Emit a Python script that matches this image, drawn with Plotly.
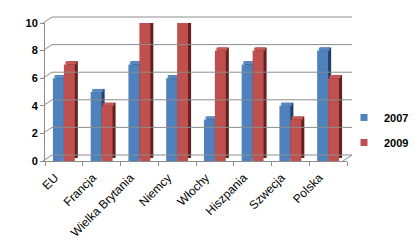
import plotly.graph_objects as go

categories = ["EU", "Francja", "Wielka Brytania", "Niemcy", "Włochy", "Hiszpania", "Szwecja", "Polska"]
series_names = ["2007", "2009"]
values_2007 = [6, 5, 7, 6, 3, 7, 4, 8]
values_2009 = [7, 4, 10, 10, 8, 8, 3, 6]
y_ticks = [0, 2, 4, 6, 8, 10]

front_colors = ["#4f81bd", "#c0504d"]
top_colors = ["#5a8ac4", "#c85a56"]
side_colors = ["#243f66", "#632220"]

W, H = 419, 250
L, R, T, B = 45, 72, 23, 89
PW = W - L - R
PH = H - T - B
YMAX = 10
BAR_W = 0.29
DX = 0.08           # depth in category units
DY = 0.22           # depth in value units

fig = go.Figure()

for i, (name, vals) in enumerate(zip(series_names, [values_2007, values_2009])):
    off = -BAR_W if i == 0 else 0.0
    # side (depth) face
    fig.add_trace(go.Bar(x=categories, y=vals, base=[DY] * len(vals), offset=off + DX, width=BAR_W,
                         marker=dict(color=side_colors[i], line=dict(width=0)),
                         showlegend=False, hoverinfo="skip"))
    # top face
    fig.add_trace(go.Bar(x=categories, y=[DY] * len(vals), base=vals, offset=off + DX / 2, width=BAR_W,
                         marker=dict(color=top_colors[i], line=dict(width=0)),
                         showlegend=False, hoverinfo="skip"))
    # front face
    fig.add_trace(go.Bar(x=categories, y=vals, offset=off, width=BAR_W, name=name,
                         legendgroup=name, showlegend=False,
                         marker=dict(color=front_colors[i], line=dict(width=0))))
    # legend entry (small square marker)
    fig.add_trace(go.Scatter(x=[None], y=[None], mode="markers", name=name, legendgroup=name,
                             marker=dict(symbol="square", size=7, color=front_colors[i]),
                             hoverinfo="skip"))

# back wall gridlines (3D look)
shapes = []
sx = 9 / PW     # back-wall horizontal shift in paper units
sy = 6 / PH     # back-wall vertical shift in paper units
for v in y_ticks:
    yp = v / YMAX
    shapes.append(dict(type="line", xref="paper", yref="paper", x0=-2 / PW, y0=yp, x1=sx - 2 / PW, y1=yp + sy,
                       line=dict(color="#8c8c8c", width=1)))
    shapes.append(dict(type="line", xref="paper", yref="paper", x0=sx - 2 / PW, y0=yp + sy, x1=1 + 5 / PW, y1=yp + sy,
                       line=dict(color="#8c8c8c", width=1)))
# floor right edge
shapes.append(dict(type="line", xref="paper", yref="paper", x0=1 - 4 / PW, y0=0, x1=1 + 5 / PW, y1=sy,
                   line=dict(color="#8c8c8c", width=1)))

fig.update_layout(
    width=W, height=H,
    margin=dict(l=L, r=R, t=T, b=B, autoexpand=False),
    paper_bgcolor="white", plot_bgcolor="rgba(0,0,0,0)",
    barmode="overlay",
    shapes=shapes,
    showlegend=True,
    legend=dict(x=(344 - L) / PW, y=0.225, xanchor="left", yanchor="middle",
                font=dict(family="Liberation Sans", size=11, color="black", weight="bold"),
                traceorder="grouped", tracegroupgap=6, itemwidth=30,
                bgcolor="rgba(0,0,0,0)", borderwidth=0),
    xaxis=dict(type="category", categoryorder="array", categoryarray=categories,
               range=[-0.5, len(categories) - 0.5], automargin=False,
               showgrid=False, showline=True, linecolor="#8c8c8c", linewidth=1,
               ticks="outside", tickson="boundaries", ticklen=4, tickcolor="#8c8c8c",
               tickangle=-45, ticklabelshift=-9, ticklabelstandoff=4,
               tickfont=dict(family="Liberation Sans", size=12, color="black"),
               zeroline=False),
    yaxis=dict(range=[0, YMAX], tickvals=y_ticks, showgrid=False, automargin=False,
               showline=True, linecolor="#8c8c8c", linewidth=1,
               ticks="outside", ticklen=4, tickcolor="#8c8c8c",
               tickfont=dict(family="Liberation Sans", size=11, color="black", weight="bold"),
               zeroline=False),
)

fig.write_html("out.html")
